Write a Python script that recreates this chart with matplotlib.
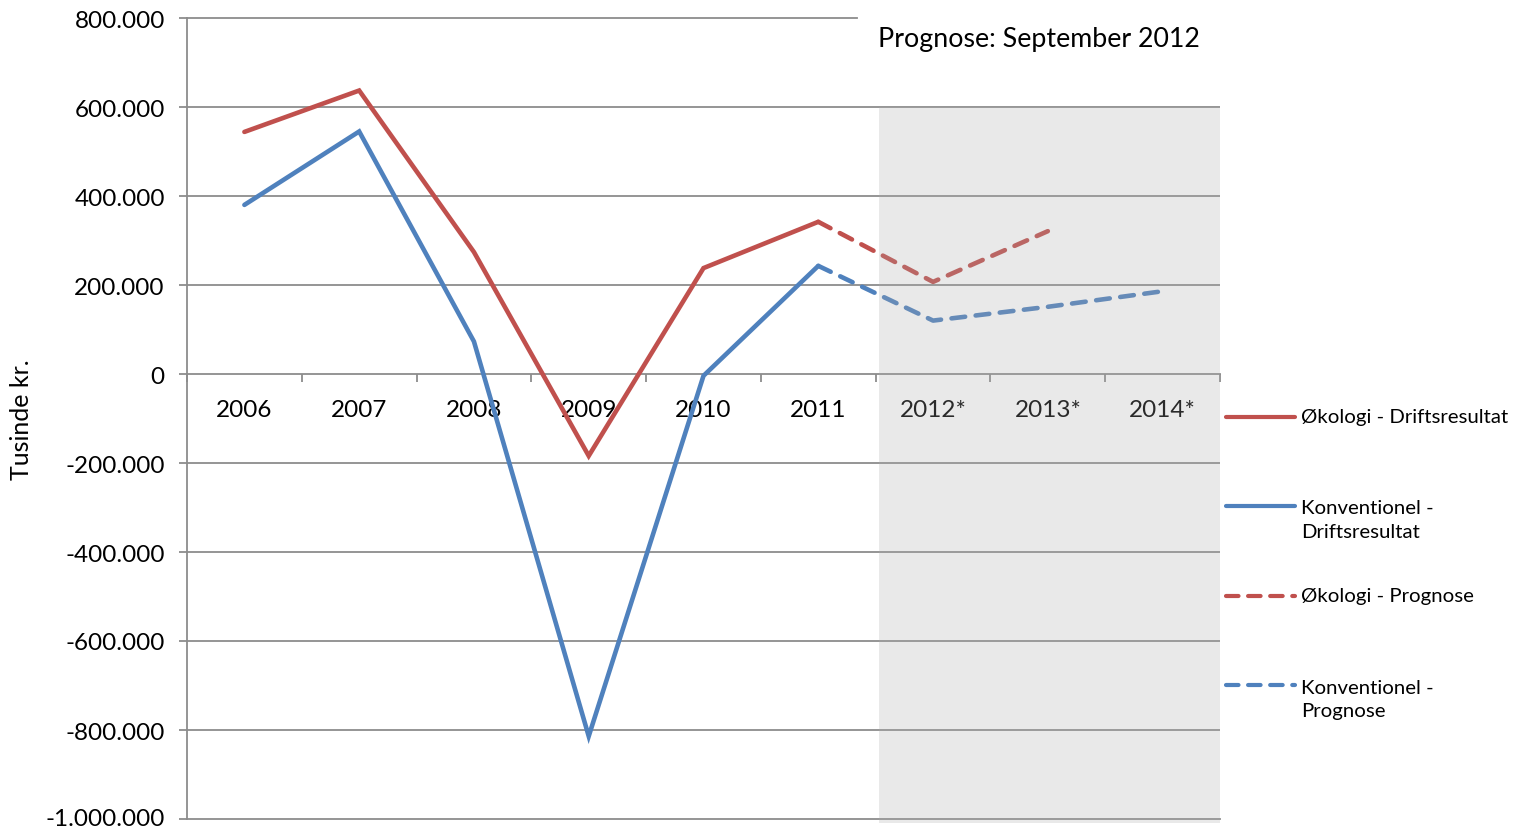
import matplotlib
matplotlib.use("Agg")
import matplotlib.pyplot as plt
from matplotlib.patches import Rectangle
from matplotlib.lines import Line2D
from matplotlib.ticker import FuncFormatter
from matplotlib.transforms import ScaledTranslation

plt.rcParams['font.family'] = ['Lato', 'DejaVu Sans']

# ---- data ----
categories = ['2006', '2007', '2008', '2009', '2010', '2011', '2012*', '2013*', '2014*']
oko_drift = [544000, 637000, 274000, -184000, 238000, 342000]
konv_drift = [380000, 545000, 73000, -814000, -4000, 243000]
oko_prog_cats = ['2011', '2012*', '2013*']
oko_prog = [342000, 207000, 321000]
konv_prog_cats = ['2011', '2012*', '2013*', '2014*']
konv_prog = [243000, 120000, 151000, 186000]
legend_labels = ['Økologi - Driftsresultat', 'Konventionel -\nDriftsresultat',
                 'Økologi - Prognose', 'Konventionel -\nPrognose']
annotation = 'Prognose: September 2012'
ylabel = 'Tusinde kr.'

RED = '#C0504D'
BLUE = '#4F81BD'
GRID = '#8C8C8C'

W, H = 1523, 829
fig = plt.figure(figsize=(W / 100, H / 100), dpi=100)
ax = fig.add_axes([187 / W, 1 - 820 / H, (1220 - 187) / W, (820 - 19) / H])

idx = {c: i for i, c in enumerate(categories)}
x_d = [idx[c] for c in categories[:len(oko_drift)]]
lw = 3.3
dash = (3.0, 2.3)

ax.plot(x_d, oko_drift, color=RED, lw=lw, solid_capstyle='round', solid_joinstyle='miter', zorder=3)
ax.plot(x_d, konv_drift, color=BLUE, lw=lw, solid_capstyle='round', solid_joinstyle='miter', zorder=3)
ax.plot([idx[c] for c in oko_prog_cats], oko_prog, color=RED, lw=lw, dashes=dash,
        dash_capstyle='round', zorder=3)
ax.plot([idx[c] for c in konv_prog_cats], konv_prog, color=BLUE, lw=lw, dashes=dash,
        dash_capstyle='round', zorder=3)

ax.set_xlim(-0.5, len(categories) - 0.5)
ax.set_ylim(-1000000, 800000)

# gridlines
yt = list(range(-1000000, 800001, 200000))
for v in yt:
    if v == 0 or v == -1000000:
        continue
    if v == 800000:
        ax.plot([-0.5, 5.34], [v, v], color=GRID, lw=1.3, zorder=1, clip_on=False)
    else:
        ax.axhline(v, color=GRID, lw=1.3, zorder=1)
ax.axhline(-1000000, color=GRID, lw=1.3, zorder=1, clip_on=False)

# spines
for s in ['top', 'right']:
    ax.spines[s].set_visible(False)
ax.spines['left'].set_color(GRID)
ax.spines['left'].set_linewidth(1.3)
ax.spines['bottom'].set_position(('data', 0))
ax.spines['bottom'].set_color(GRID)
ax.spines['bottom'].set_linewidth(1.3)

ax.set_yticks(yt)
ax.yaxis.set_major_formatter(FuncFormatter(lambda v, p: f"{int(v):,}".replace(',', '.')))
ax.tick_params(axis='y', length=6, width=1.3, color=GRID, labelsize=17.5, pad=10, labelcolor='black')

ax.set_xticks(range(len(categories)))
ax.set_xticklabels(categories)
ax.set_xticks([i - 0.5 for i in range(len(categories) + 1)], minor=True)
ax.tick_params(axis='x', which='major', length=0, labelsize=17.5, pad=18, labelcolor='black')
ax.tick_params(axis='x', which='minor', length=6, width=1.3, color=GRID, direction='out')

fig.text(22 / W, 1 - 420 / H, ylabel, rotation=90, fontsize=18, ha='center', va='center')

# translucent forecast overlay
ov = Rectangle((5.53, -1008000), 8.5 - 5.53, 600000 + 1008000, facecolor='#ABABAB',
               alpha=0.25, edgecolor='none', zorder=5, clip_on=False)
ax.add_patch(ov)

fig.text(878 / W, 1 - 40 / H, annotation, fontsize=19.3, ha='left', va='center')

# legend (manual)
entries = [(RED, None, 418, 418), (BLUE, None, 507, 521), (RED, dash, 597, 597), (BLUE, dash, 686, 700)]
for (col, ds, ly, ty), lab in zip(entries, legend_labels):
    yy = 1 - ly / H
    kw = dict(color=col, lw=3.0, transform=fig.transFigure)
    if ds:
        ln = Line2D([1226 / W, 1295 / W], [yy, yy], dashes=dash, dash_capstyle='round', **kw)
    else:
        ln = Line2D([1226 / W, 1295 / W], [yy, yy], solid_capstyle='round', **kw)
    fig.add_artist(ln)
    fig.text(1301 / W, 1 - ty / H, lab, fontsize=14.7, ha='left', va='center', linespacing=1.5)

fig.canvas.draw()
lbls = ax.get_yticklabels()
lbls[0].set_transform(lbls[0].get_transform() + ScaledTranslation(0, 3 / 100, fig.dpi_scale_trans))

fig.savefig('out.png', dpi=100)
